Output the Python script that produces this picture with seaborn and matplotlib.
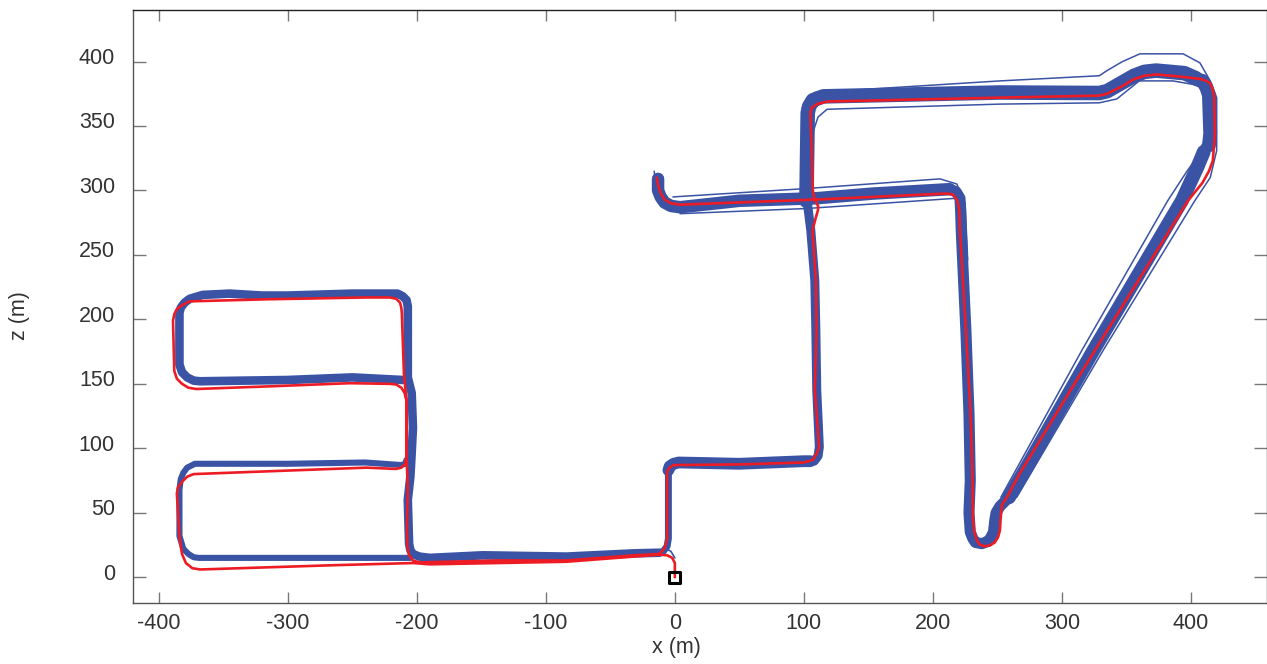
import matplotlib
matplotlib.use("Agg")
import matplotlib.pyplot as plt
import matplotlib.transforms as mtrans
import seaborn as sns

BLUE = "#3A53A4"
RED = "#ED1C24"

x_ticks = [-400, -300, -200, -100, 0, 100, 200, 300, 400]
z_ticks = [0, 50, 100, 150, 200, 250, 300, 350, 400]

# estimated (red) trajectory, start at the square
red_x = [0, 0, -2, -6, -12, -32, -84, -136, -190, -203, -265, -368, -374, -379, -382, -384, -386, -385, -382,
         -378, -373, -265, -239, -216, -212, -209, -208, -208, -209.5, -212, -216, -221, -252, -316, -371, -377,
         -382, -386, -388, -389, -388, -386, -382, -376, -316, -239, -221, -216, -213, -212, -211.6, -210, -208,
         -208, -207, -207.6, -207.4, -206, -203, -198, -136, -84, -32, -12, -8, -6, -6, -5.5, -4, -1, 50, 100,
         107, 110, 111.8, 108.5, 109.8, 109.3, 106.7, 109, 111, 111, 108, 107, 106, 105, 106, 110, 118, 252, 329,
         335, 340, 347, 355, 364, 373, 390, 407, 412, 415, 417, 418, 418.6, 417, 414, 409, 397.7, 325.6, 267.4,
         258, 253.5, 252.5, 252, 250.5, 248, 244, 240, 236, 234, 232, 231, 230.8, 229.2, 225.6, 221, 220.5, 220,
         218.5, 215.5, 210, 153.5, 110, 50, 4, -3, -8, -11, -13, -14]
red_z = [0, 11, 15, 17, 17.5, 16, 12, 11, 10, 11, 9.3, 6, 7, 11, 18, 31, 65, 70, 74,
         78, 80, 84, 85, 84, 85, 88, 93, 137, 143, 147, 149.5, 150, 150.5, 148, 146, 147,
         150, 154, 160, 199, 204, 208, 211, 214, 215.6, 217, 217, 216, 213, 209, 204.5, 158, 137,
         93, 70, 39, 24, 17, 13, 11.5, 13, 13, 17, 18, 22.5, 30, 80, 83, 85, 87, 87.5, 89,
         91, 96, 101, 145, 191.5, 230, 269, 278, 285, 288, 294, 300, 333, 360, 364, 367, 369, 372, 373.6,
         375, 377.5, 381, 386, 389, 390, 388.5, 386.6, 385, 383, 378, 372, 344, 323, 315, 306, 292, 176, 80.6,
         63, 56, 45, 36.4, 31, 27, 24.5, 24, 25.5, 28.7, 36, 46.5, 75, 127, 191.5, 269, 284, 288,
         293, 297, 297.6, 295, 293, 290.7, 289, 290, 293, 298, 304, 310]

# blue runs, west half
blue_start_x = [0, -3, -8]
blue_start_z = [15, 20, 23]
blue_low_x = [-205, -340, -369, -373, -377, -381, -384, -384, -383, -381, -378, -372, -300, -240, -212, -209, -208]
blue_low_z = [15, 15, 15, 15.5, 18, 22, 32, 68, 76, 81, 85, 88, 88, 89, 87, 88, 91]
blue_up_x = [-211, -250, -300, -368, -373, -378, -382, -384, -384, -383, -380, -376, -366, -345, -320, -300, -250,
             -215, -211, -208, -207, -207, -204, -203, -204, -205, -207, -206, -205, -203, -198, -190, -149, -84,
             -32, -12]
blue_up_z = [153, 155, 153, 152, 152.5, 155, 159, 165, 205, 209, 213, 216, 219, 220, 218.5, 218.5, 220,
             220, 218, 215, 210, 155, 143, 116, 96, 78, 60, 26, 21, 18, 16, 15, 17, 16,
             18.5, 19]
blue_bridge_x = [-12, -9, -6, -5, -5]
blue_bridge_z = [19, 20, 24, 30, 83]

# blue runs, east half
blue_step_x = [-5, -4, -1, 3, 50, 100, 105]
blue_step_z = [83, 86, 88, 89, 88, 90, 90]
blue_rise_x = [108, 111, 112, 110, 109.3, 108.5, 105.4, 103]
blue_rise_z = [90, 94, 101, 145, 191.5, 230, 269, 288]
blue_top_x = [102, 103, 104, 107, 115, 252, 329, 335, 342, 349, 356, 364, 373, 395, 404]
blue_top_z = [292, 360, 365, 370, 373, 376, 375.6, 377, 381, 385, 389, 392, 393, 391, 387]
blue_side_x = [405, 409, 412, 414, 415, 414]
blue_side_z = [386, 385, 380, 374, 344, 335]
blue_diag_x = [410, 405, 393, 324.5, 270, 259]
blue_diag_z = [330, 318, 292, 176, 80.6, 62]
blue_loop_x = [259, 252, 249, 248, 247, 245, 243, 238, 233, 231, 229, 228, 229, 228, 225.6, 222, 221.5, 221, 218, 213]
blue_loop_z = [62, 55, 50, 44, 35, 31, 28, 26, 27, 30, 35, 50, 75, 127, 191.5, 269, 285, 294, 299, 301]
blue_mid_x = [213, 153.5, 110, 50, 4, -3, -8, -11, -13, -13]
blue_mid_z = [301, 297.6, 294, 292, 287, 288, 290.7, 295, 300, 309]

blue_top_out_x = [98.5, 99, 102, 108.5, 252, 329, 335, 347, 360.5, 394, 407, 415]
blue_top_out_z = [340, 364, 371, 376, 385, 389, 393, 400, 406, 406, 399, 385]
blue_top_in_x = [107, 111, 118, 252, 329, 342.6, 360, 386, 409]
blue_top_in_z = [345, 357, 363, 367, 368, 371, 385, 385, 381]
blue_right_x = [415, 420, 420, 415, 403, 332, 265]
blue_right_z = [385, 372, 331, 310, 292, 176, 62]
blue_left_x = [409, 405, 397, 382, 315.5, 252.7]
blue_left_z = [336, 326, 315, 292, 176, 62]
blue_mid_up_x = [-1.5, 102, 205.5, 218.6, 225, 227]
blue_mid_up_z = [295, 301.5, 309, 305, 290, 246]
blue_mid_lo_x = [4, 102, 218.6]
blue_mid_lo_z = [282, 286, 294]
blue_end_a_x = [-16, -15, -13]
blue_end_a_z = [315, 305, 296]
blue_end_b_x = [-13, -12, -10]
blue_end_b_z = [313, 304, 296]

fig = plt.figure(figsize=(12.67, 6.64), dpi=100)
sns.set_style("white")
plt.rcParams["font.family"] = ["Liberation Sans", "DejaVu Sans"]
plt.rcParams["axes.unicode_minus"] = False
ax = fig.add_axes([133 / 1267, 61 / 664, 1134 / 1267, 593 / 664])


def track(xs, zs, lw, color=BLUE):
    sns.lineplot(x=xs, y=zs, sort=False, estimator=None, color=color, lw=lw, ax=ax,
                 solid_joinstyle="round", solid_capstyle="round")


track(blue_start_x, blue_start_z, 1.2)
track(blue_low_x, blue_low_z, 4.4)
track(blue_up_x, blue_up_z, 6.2)
track(blue_bridge_x, blue_bridge_z, 5)
track(blue_step_x, blue_step_z, 8.5)
track(blue_rise_x, blue_rise_z, 6.5)
track(blue_top_x, blue_top_z, 10.5)
track(blue_side_x, blue_side_z, 10)
track(blue_diag_x, blue_diag_z, 10)
track(blue_loop_x, blue_loop_z, 8)
track(blue_mid_x, blue_mid_z, 9)
for xs, zs in [(blue_top_out_x, blue_top_out_z), (blue_top_in_x, blue_top_in_z),
               (blue_right_x, blue_right_z), (blue_left_x, blue_left_z),
               (blue_mid_up_x, blue_mid_up_z), (blue_mid_lo_x, blue_mid_lo_z),
               (blue_end_a_x, blue_end_a_z), (blue_end_b_x, blue_end_b_z)]:
    track(xs, zs, 1.1)
track(red_x, red_z, 1.9, RED)

sns.scatterplot(x=[0], y=[0], marker="s", s=62, facecolors="none", edgecolor="black",
                linewidth=2.2, ax=ax, zorder=5)

ax.set_xlim(-420, 459)
ax.set_ylim(-20, 440)
ax.set_xticks(x_ticks)
ax.set_yticks(z_ticks)
ax.tick_params(axis="both", direction="in", width=1, color="#777777",
               top=True, right=True, bottom=True, left=True,
               labelsize=15.5, labelcolor="#333333")
ax.tick_params(axis="x", pad=7, length=8)
ax.tick_params(axis="y", pad=13, length=9.4)
for name, spine in ax.spines.items():
    spine.set_color("#555555")
    spine.set_linewidth(1)
ax.spines["top"].set_color("#222222")

shift = mtrans.ScaledTranslation(0, 4 / 72, fig.dpi_scale_trans)
for lab in ax.get_yticklabels():
    lab.set_transform(lab.get_transform() + shift)

fig.text(676 / 1267, 1 - 648 / 664, "x (m)", ha="center", va="center", fontsize=15.5, color="#333333")
fig.text(19 / 1267, 1 - 316 / 664, "z (m)", ha="center", va="center", rotation=90,
         fontsize=15.5, color="#333333")

fig.savefig("out.png", dpi=100)
